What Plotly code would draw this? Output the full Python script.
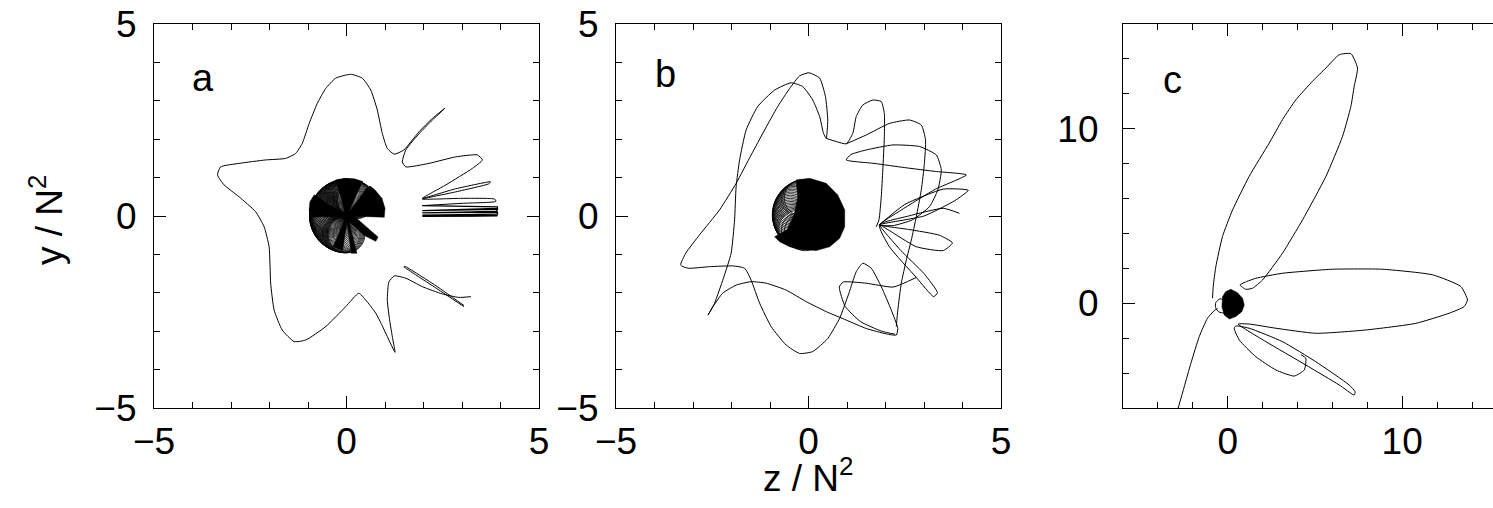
import numpy as np
import plotly.graph_objects as go

W, H = 1493, 508
FONT = "Liberation Sans, Arial, Helvetica, sans-serif"

# ---------------- panel a : trajectory in the (z, y) plane ----------------
a_star_x = [3.23, 2.92, 2.49, 1.97, 1.54, 1.24, 1.10, 1.06, 1.12, 1.20, 1.26, 1.06, 0.90, 0.76,
            0.50, 0.32, -0.02, -0.54, -1.06, -1.36, -1.67, -1.88, -1.97, -2.01, -2.14, -2.36,
            -2.79, -3.18, -3.35, -3.27, -2.79, -2.10, -1.58, -1.32, -1.15, -0.97, -0.76, -0.54,
            -0.28, 0.11, 0.41, 0.63, 0.80, 0.93, 1.06, 1.24, 1.49, 1.88, 2.23, 2.56, 2.20, 1.90,
            1.70, 1.54, 1.45, 1.54, 2.14, 2.84, 3.40, 3.53, 3.27, 2.58, 1.97, 2.80, 3.74, 3.70,
            2.80, 1.97, 3.00, 3.85, 3.88, 3.00, 1.97]
a_star_y = [-2.10, -2.12, -2.03, -1.84, -1.62, -1.56, -1.72, -2.19, -2.71, -3.20, -3.55, -3.14,
            -2.80, -2.53, -2.19, -2.01, -2.36, -2.88, -3.23, -3.27, -2.97, -2.45, -1.75, -0.80,
            -0.28, 0.11, 0.50, 0.81, 1.07, 1.28, 1.37, 1.46, 1.50, 1.63, 1.89, 2.41, 2.93, 3.32,
            3.59, 3.69, 3.59, 3.28, 2.76, 2.15, 1.76, 1.61, 1.72, 2.19, 2.54, 2.81, 2.47, 2.16,
            1.93, 1.72, 1.41, 1.28, 1.37, 1.54, 1.59, 1.46, 1.24, 0.81, 0.46, 0.70, 0.89, 0.84,
            0.62, 0.44, 0.46, 0.44, 0.38, 0.33, 0.27]

a_bundle_x = [1.97, 3.92, 3.92, 1.97, 3.92, 3.90, 1.97, 3.92, 3.92, 1.97, 3.92, 3.90, 1.97, 3.92]
a_bundle_y = [0.27, 0.24, 0.20, 0.14, 0.17, 0.12, 0.08, 0.10, 0.05, 0.02, 0.04, 0.00, -0.01, 0.01]

a_tail_x = [3.05, 2.30, 1.49, 1.52, 2.30, 3.05]
a_tail_y = [-2.36, -1.86, -1.32, -1.31, -1.80, -2.33]

# dark (fully overwritten) sectors of the central rosette
a_dark = [
    ([0.0, 0.98, 1.00, 0.92, 0.74, 0.61, 0.52, 0.0], [0.0, -0.03, 0.20, 0.46, 0.68, 0.78, 0.72, 0.0]),
    ([0.05, 0.25, 0.82, 0.76, 0.45, 0.05], [-0.03, -0.05, -0.55, -0.66, -0.50, -0.12]),
    ([0.0, -0.93, -0.97, -0.95, -0.84, 0.0], [0.0, -0.03, 0.16, 0.37, 0.55, 0.0]),
    ([0.0, -0.28, -0.05, 0.20, 0.42, 0.0], [0.0, 0.94, 0.98, 0.97, 0.90, 0.0]),
    ([0.0, 0.12, 0.27, 0.05], [0.0, -0.97, -0.97, -0.10]),
    ([0.0, -0.35, -0.10, 0.0], [0.0, -0.80, -0.90, -0.2]),
]
# orientation (deg) of the open loops of the rosette
a_loop_deg = [58, 61, 64, 67, 70, 73, 76, 79, 82, 85, 88, 91, 94, 97, 100, 103, 106, 110, 114, 118,
              122, 126, 130, 134, 138, 142, 146, 150, 154, 158, 162, 165, 168, 171, 174, 177, 180,
              183, 186, 189, 192, 196, 200, 204, 208, 212, 216, 220, 224, 228, 232, 236, 240, 244,
              248, 252, 255, 258, 261, 264, 267, 270]
a_loop_r = 0.48

# ---------------- panel b ----------------
b_main_x = [0.46, 0.50, 0.44, 0.29, 0.01, -0.23, -0.49, -0.80, -1.14, -1.49, -1.88, -2.31, -2.83,
            -3.19, -3.32, -3.13, -2.57, -1.97, -1.66, -1.49, -1.27, -0.97, -0.58, -0.23, 0.11, 0.50,
            0.81, 1.05, 1.24, 1.41, 1.63, 1.89, 2.15, 2.32, 2.28, 2.02, 1.50, 0.98, 0.46, -0.06,
            -0.58, -1.10, -1.49, -1.88, -2.23, -2.48, -2.61, -2.44, -2.21, -2.01, -1.92, -1.88,
            -1.79, -1.62, -1.32, -0.88, -0.45, -0.15, 0.11, 0.29, 0.39, 0.46]
b_main_y = [2.02, 2.50, 3.11, 3.59, 3.73, 3.65, 3.32, 2.85, 2.24, 1.59, 0.85, 0.16, -0.49, -0.97,
            -1.28, -1.36, -1.32, -1.30, -1.36, -1.67, -2.27, -2.88, -3.36, -3.58, -3.53, -3.19,
            -2.66, -2.01, -1.45, -1.23, -1.36, -1.84, -2.45, -2.93, -3.10, -3.07, -2.93, -2.71,
            -2.49, -2.23, -1.93, -1.75, -1.71, -1.80, -2.01, -2.36, -2.58, -2.27, -1.62, -0.97,
            -0.10, 0.76, 1.46, 2.24, 2.85, 3.28, 3.47, 3.37, 3.02, 2.59, 2.15, 2.02]

b_upper_x = [0.46, 0.72, 0.98, 1.15, 1.24, 1.41, 1.67, 1.89, 1.97, 1.97, 1.93, 1.89, 1.83, 1.76]
b_upper_y = [2.02, 1.94, 1.88, 2.15, 2.59, 2.89, 3.02, 2.98, 2.67, 2.07, 1.20, 0.50, -0.10, -0.28]

b_right_x = [0.98, 1.50, 2.10, 2.62, 2.93, 3.04, 3.01, 2.93, 2.80, 2.67, 2.54, 2.41, 2.32, 2.28]
b_right_y = [1.88, 2.11, 2.41, 2.50, 2.37, 1.98, 1.37, 0.68, -0.02, -0.63, -1.15, -1.75, -2.45, -2.88]

b_long_x = [1.84, 2.40, 3.30, 4.10, 3.30, 2.50, 1.70, 0.98, 1.10, 1.50, 2.19, 2.88, 3.32, 3.45,
            3.36, 3.14, 2.70, 2.20, 1.84]
b_long_y = [-0.23, 0.15, 0.70, 1.07, 1.16, 1.26, 1.37, 1.46, 1.60, 1.72, 1.85, 1.81, 1.59, 1.20,
            0.68, 0.24, -0.10, -0.25, -0.23]

b_fan_x = [1.84, 2.50, 3.50, 4.15, 3.80, 3.00, 1.84, 2.60, 3.40, 3.74, 3.50, 2.80, 1.84, 2.40,
           3.00, 3.35, 3.25, 2.80, 2.10, 1.84, 2.60, 3.50, 3.92]
b_fan_y = [-0.23, 0.30, 0.70, 0.67, 0.40, 0.00, -0.23, -0.35, -0.50, -0.70, -0.90, -0.80, -0.23,
           -0.90, -1.50, -2.00, -2.10, -1.60, -0.80, -0.23, 0.00, 0.20, 0.07]

b_low_x = [2.80, 2.20, 1.50, 0.90, 0.80, 0.95, 1.35, 1.90, 2.25]
b_low_y = [-1.60, -1.85, -1.75, -1.72, -1.85, -2.35, -2.75, -3.00, -3.08]

b_dark_x = [-0.32, 0.03, 0.46, 0.76, 0.94, 0.94, 0.81, 0.55, 0.20, -0.19, -0.49, -0.75, -0.88,
            -0.54, -0.36, -0.28, -0.32]
b_dark_y = [0.94, 0.98, 0.85, 0.55, 0.16, -0.28, -0.58, -0.80, -0.90, -0.87, -0.80, -0.67, -0.54,
            -0.36, 0.07, 0.50, 0.94]
b_loop_deg = [110, 115, 120, 125, 130, 135, 140, 145, 150, 155, 160, 165, 170, 175, 180, 185, 190,
              195, 200, 205, 210, 215, 220, 225, 230, 240, 250, 260]
b_loop_r = 0.47
b_loop_c = (0.0, 0.03)

# ---------------- panel c ----------------
c_tail_x = [-2.87, -2.49, -2.11, -1.63, -1.16, -0.77, -0.58]
c_tail_y = [-6.12, -4.78, -3.44, -1.91, -0.86, -0.42, -0.29]

c_lobes_x = [-0.87, -0.83, -0.68, -0.30, 0.28, 1.23, 2.38, 3.14, 3.91, 4.86, 5.63, 6.39, 7.06, 7.44,
             7.25, 7.06, 6.58, 5.63, 4.29, 3.14, 2.00, 1.42, 1.04, 0.70, 1.10, 1.61, 3.14, 6.01,
             8.87, 11.74, 13.36, 13.74, 13.55, 12.69, 10.78, 7.92, 5.05, 2.76, 1.23, 0.60, 2.19,
             4.48, 6.39, 7.25, 7.30, 6.96, 5.05, 3.14, 1.23, 0.47, 0.37, 0.66, 1.61, 2.76, 3.81,
             4.39, 4.48, 4.20]
c_lobes_y = [0.29, 0.96, 2.10, 3.82, 5.35, 7.27, 9.18, 10.52, 11.66, 12.72, 13.48, 14.24, 14.30,
             13.48, 12.43, 11.28, 9.56, 7.27, 4.78, 2.87, 1.34, 0.86, 0.80, 1.05, 1.25, 1.43, 1.72,
             1.95, 1.95, 1.63, 0.96, 0.19, -0.19, -0.57, -1.15, -1.53, -1.72, -1.43, -1.19, -1.19,
             -2.20, -3.54, -4.68, -5.26, -5.07, -4.68, -3.35, -2.20, -1.43, -1.30, -1.43, -2.10,
             -3.06, -3.82, -4.17, -3.82, -3.15, -2.95]

c_blob_x = [-0.30, -0.11, 0.18, 0.56, 0.85, 0.95, 0.81, 0.47, 0.09, -0.20, -0.33, -0.30]
c_blob_y = [0.38, 0.67, 0.80, 0.61, 0.29, -0.10, -0.48, -0.76, -0.90, -0.67, -0.19, 0.38]
c_ring_x = [-0.15, -0.45, -0.68, -0.70, -0.50, -0.20, -0.15]
c_ring_y = [0.20, 0.25, 0.05, -0.25, -0.50, -0.55, -0.20]

fig = go.Figure()


def line(x, y, xa, ya, width=1.0, smooth=0.5):
    fig.add_trace(go.Scatter(x=x, y=y, mode="lines", xaxis=xa, yaxis=ya,
                             line=dict(color="black", width=width, shape="spline",
                                       smoothing=smooth),
                             hoverinfo="skip", showlegend=False))


def dark(x, y, xa, ya):
    fig.add_trace(go.Scatter(x=x, y=y, mode="lines", fill="toself", fillcolor="black",
                             xaxis=xa, yaxis=ya, line=dict(color="black", width=0.5),
                             hoverinfo="skip", showlegend=False))


# panel a
line(a_star_x, a_star_y, "x", "y")
line(a_bundle_x, a_bundle_y, "x", "y", 1.3, 0)
line(a_tail_x, a_tail_y, "x", "y", 1.0, 0.3)
for px, py in a_dark:
    dark(px, py, "x", "y")

# panel b
for px, py in [(b_main_x, b_main_y), (b_upper_x, b_upper_y), (b_right_x, b_right_y),
               (b_long_x, b_long_y), (b_fan_x, b_fan_y), (b_low_x, b_low_y)]:
    line(px, py, "x2", "y2")
dark(b_dark_x, b_dark_y, "x2", "y2")

# panel c
line(c_tail_x, c_tail_y, "x3", "y3")
line(c_lobes_x, c_lobes_y, "x3", "y3")
line(c_ring_x, c_ring_y, "x3", "y3")
dark(c_blob_x, c_blob_y, "x3", "y3")

# rosette loops: circles through the loop origin, oriented by the listed angles
shapes = []
for deg in a_loop_deg:
    cx, cy = a_loop_r * np.cos(np.radians(deg)), a_loop_r * np.sin(np.radians(deg))
    shapes.append(dict(type="circle", xref="x", yref="y", x0=cx - a_loop_r, x1=cx + a_loop_r,
                       y0=cy - a_loop_r, y1=cy + a_loop_r, line=dict(color="black", width=0.8)))
for deg in b_loop_deg:
    cx = b_loop_c[0] + b_loop_r * np.cos(np.radians(deg))
    cy = b_loop_c[1] + b_loop_r * np.sin(np.radians(deg))
    shapes.append(dict(type="circle", xref="x2", yref="y2", x0=cx - b_loop_r, x1=cx + b_loop_r,
                       y0=cy - b_loop_r, y1=cy + b_loop_r, line=dict(color="black", width=0.8)))


def px_dom(a, b):
    return [a / W, b / W]


ydom = [1 - 408 / H, 1 - 24 / H]
tickfont = dict(size=37, family=FONT, color="black")


def axis(rng, dom, anchor, dtick, minor, mirror="ticks", standoff=0):
    return dict(range=rng, domain=dom, anchor=anchor, showgrid=False, zeroline=False,
                showline=True, linecolor="black", linewidth=1.2, mirror=mirror,
                ticks="inside", ticklen=12, tickwidth=1, tickcolor="black", dtick=dtick, tick0=0,
                minor=dict(dtick=minor, tick0=0, ticks="inside", ticklen=6, tickwidth=1,
                           tickcolor="black", showgrid=False),
                tickfont=tickfont, ticklabelstandoff=standoff, fixedrange=True,
                automargin=False)


def label(text, x, y, size=37, angle=0):
    return dict(text=text, x=x / W, y=1 - y / H, xref="paper", yref="paper", showarrow=False,
                xanchor="center", yanchor="middle", textangle=angle,
                font=dict(size=size, family=FONT, color="black"))


fig.update_layout(
    template="none",
    width=W, height=H, margin=dict(l=0, r=0, t=0, b=0, pad=0, autoexpand=False),
    paper_bgcolor="white", plot_bgcolor="white",
    xaxis=axis([-5, 5], px_dom(154, 539), "y", 5, 1),
    yaxis=axis([-5, 5], ydom, "x", 5, 1, standoff=9),
    xaxis2=axis([-5, 5], px_dom(616, 1001), "y2", 5, 1),
    yaxis2=axis([-5, 5], ydom, "x2", 5, 1, standoff=9),
    xaxis3=axis([-6, -6 + 370 / 17.45], [1123 / W, 1.0], "y3", 10, 2),
    yaxis3=axis([-6, 16], ydom, "x3", 10, 2, mirror=False, standoff=16),
    shapes=shapes,
    annotations=[
        label("a", 203, 78, 38),
        label("b", 665, 74, 38),
        label("c", 1172, 80, 38),
        label("y / N<sup>2</sup>", 46, 220, 37, -90),
        label("z / N<sup>2</sup>", 808, 475, 37),
    ],
)

fig.write_html("out.html")
